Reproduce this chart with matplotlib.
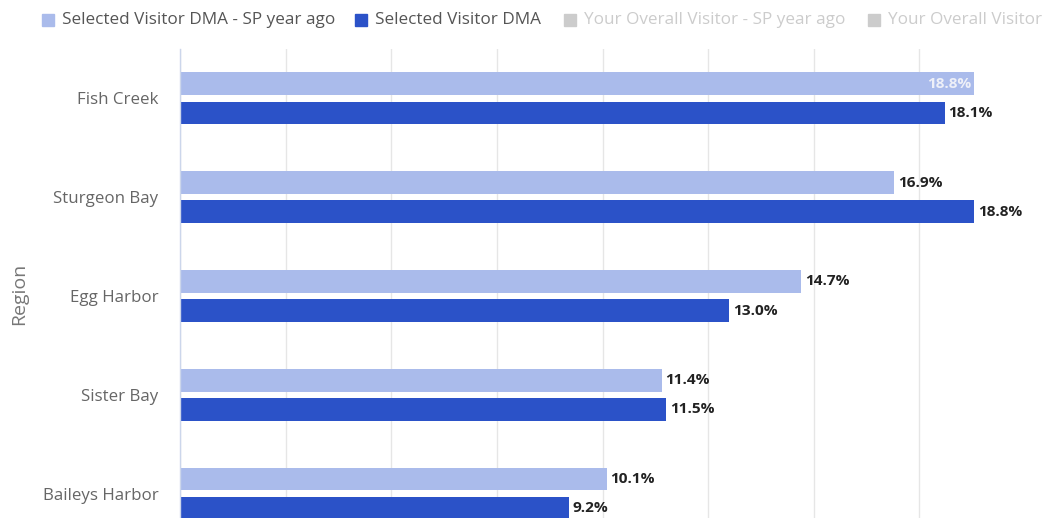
import matplotlib
matplotlib.use("Agg")
import matplotlib.pyplot as plt
from matplotlib.patches import Rectangle

regions = ["Fish Creek", "Sturgeon Bay", "Egg Harbor", "Sister Bay", "Baileys Harbor"]
sp_year_ago = [18.8, 16.9, 14.7, 11.4, 10.1]
selected = [18.1, 18.8, 13.0, 11.5, 9.2]
series_names = ["Selected Visitor DMA - SP year ago", "Selected Visitor DMA",
                "Your Overall Visitor - SP year ago", "Your Overall Visitor"]
series_colors = ["#aabbeb", "#2b52c8", "#cccccc", "#cccccc"]
legend_text_colors = ["#555555", "#555555", "#cccccc", "#cccccc"]
x_ticks = [0, 2.5, 5, 7.5, 10, 12.5, 15, 17.5]

plt.rcParams['font.family'] = ['Open Sans', 'DejaVu Sans']

W, H = 1042, 518
fig = plt.figure(figsize=(W / 100, H / 100), dpi=100)
left, right, top = 180, 1010, 49
cat_px = 98.8
ax_h = cat_px * len(regions)
ax = fig.add_axes([left / W, (H - top - ax_h) / H, (right - left) / W, ax_h / H])

px_per_unit = 42.25
ax.set_xlim(0, (right - left) / px_per_unit)
ax.set_ylim(len(regions) - 0.5, -0.5)

ys = list(range(len(regions)))
bh = 0.232
off = 0.148
ax.barh([y - off for y in ys], sp_year_ago, height=bh, color=series_colors[0], zorder=2)
ax.barh([y + off for y in ys], selected, height=bh, color=series_colors[1], zorder=2)

lab_fs = 11.1
for i, (a, b) in enumerate(zip(sp_year_ago, selected)):
    if i == 0:
        ax.text(a - 0.06, i - off, f"{a:.1f}%", ha="right", va="center",
                fontsize=lab_fs, fontweight="bold", color="#eef0f8", zorder=3)
    else:
        ax.text(a + 0.09, i - off, f"{a:.1f}%", ha="left", va="center",
                fontsize=lab_fs, fontweight="bold", color="#222222", zorder=3)
    ax.text(b + 0.09, i + off, f"{b:.1f}%", ha="left", va="center",
            fontsize=lab_fs, fontweight="bold", color="#222222", zorder=3)

ax.set_xticks(x_ticks)
ax.tick_params(axis="x", length=0, labelbottom=False)
ax.grid(axis="x", color="#e6e6e6", linewidth=1, zorder=0)
ax.set_yticks(ys)
ax.set_yticklabels(regions, fontsize=12.2, color="#666666")
ax.tick_params(axis="y", length=0, pad=15.5)
for s in ["top", "right", "bottom"]:
    ax.spines[s].set_visible(False)
ax.spines["left"].set_color("#ccd6eb")
ax.spines["left"].set_linewidth(1)

fig.text(19 / W, 1 - 294 / H, "Region", rotation=90, ha="center", va="center",
         fontsize=14, color="#777777")

# legend
sq_x = [42, 355, 564, 868]
for name, c, tc, x in zip(series_names, series_colors, legend_text_colors, sq_x):
    fig.patches.append(Rectangle((x / W, 1 - 26 / H), 12 / W, 12 / H,
                                 transform=fig.transFigure, color=c))
    fig.text((x + 20) / W, 1 - 20 / H, name, ha="left", va="center",
             fontsize=12.3, color=tc)

fig.savefig("out.png", dpi=100)
